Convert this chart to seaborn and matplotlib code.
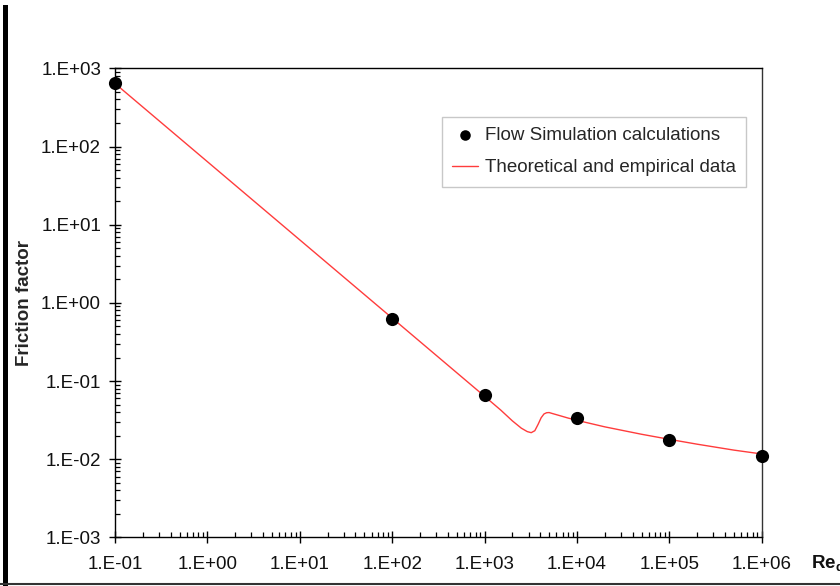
import numpy as np
import pandas as pd
import matplotlib
matplotlib.use("Agg")
import matplotlib.pyplot as plt
from matplotlib.ticker import LogLocator, FuncFormatter, NullFormatter
from matplotlib.lines import Line2D
from matplotlib.patches import Rectangle
import seaborn as sns

# Flow Simulation results
sim_re = [0.1, 100, 1000, 1e4, 1e5, 1e6]
sim_f = [640, 0.63, 0.066, 0.034, 0.0175, 0.0111]

# Theoretical (laminar) and empirical (turbulent) friction factor curve
ref_re = [0.1, 1, 10, 100, 1000, 1500, 2000, 2500, 2900, 3200, 3500, 3800,
          4100, 4400, 4700, 5000, 5500, 6500, 8000, 1e4, 2e4, 5e4, 1e5,
          2e5, 5e5, 1e6]
ref_f = [640, 64, 6.4, 0.64, 0.064, 0.0425, 0.031, 0.0250, 0.0226, 0.0219,
         0.0232, 0.0280, 0.0340, 0.0380, 0.0394, 0.0396, 0.0383, 0.0362,
         0.0337, 0.0315, 0.0260, 0.0209, 0.0180, 0.0156, 0.0131, 0.0117]

sim_df = pd.DataFrame({"Re": sim_re, "f": sim_f})
ref_df = pd.DataFrame({"Re": ref_re, "f": ref_f})

sns.set_theme(style="ticks")
plt.rcParams["font.family"] = ["Liberation Sans", "DejaVu Sans"]
plt.rcParams["mathtext.fontset"] = "custom"
plt.rcParams["mathtext.rm"] = "Liberation Sans"
plt.rcParams["mathtext.bf"] = "Liberation Sans:bold"

FS = 13.5

fig = plt.figure(figsize=(8.4, 5.86), dpi=100)
ax = fig.add_axes([0.1369, 0.0828, 0.9068 - 0.1369, 0.8834 - 0.0828])

sns.scatterplot(data=sim_df, x="Re", y="f", ax=ax, color="black", s=90,
                edgecolor="black", linewidth=0, zorder=4, clip_on=False,
                label="Flow Simulation calculations")
sns.lineplot(data=ref_df, x="Re", y="f", ax=ax, color="#ff3c3c", lw=1.0,
             estimator=None, sort=False, zorder=3,
             label="Theoretical and empirical data")

ax.set_xscale("log")
ax.set_yscale("log")
ax.set_xlim(0.1, 1e6)
ax.set_ylim(1e-3, 1e3)

fmt = FuncFormatter(lambda v, pos: "1.E{:+03d}".format(int(round(np.log10(v)))))
for axis in (ax.xaxis, ax.yaxis):
    axis.set_major_locator(LogLocator(base=10, numticks=20))
    axis.set_minor_locator(LogLocator(base=10, subs=np.arange(2, 10), numticks=100))
    axis.set_major_formatter(fmt)
    axis.set_minor_formatter(NullFormatter())

ax.tick_params(which="major", direction="inout", length=8, width=1,
               color="black", labelsize=FS, labelcolor="#111111")
ax.tick_params(axis="x", which="major", pad=9)
ax.tick_params(axis="y", which="major", pad=6)
ax.tick_params(which="minor", direction="in", length=3.5, width=0.9,
               color="black")

for sp in ax.spines.values():
    sp.set_visible(True)
    sp.set_color("black")
    sp.set_linewidth(1.0)
ax.spines["right"].set_color("#333333")

ax.set_xlabel("")
ax.set_ylabel("Friction factor", fontsize=FS, fontweight="bold", labelpad=6)

leg = ax.legend(loc="upper right", bbox_to_anchor=(0.9757, 0.8968),
                borderaxespad=0, fontsize=FS, frameon=True, fancybox=False,
                framealpha=1, edgecolor="#c8c8c8", handlelength=1.4,
                handletextpad=0.35, labelspacing=0.8, borderpad=0.55,
                markerscale=0.8)
leg.get_frame().set_linewidth(1.0)

fig.text(811 / 840, 1 - 563 / 586, r"$\mathbf{Re_d}$", fontsize=FS,
         ha="left", va="center", color="#111111")

# frame edges along the left and bottom of the canvas
fig.add_artist(Rectangle((3 / 840, 0), 4.5 / 840, 1 - 5 / 586,
                         transform=fig.transFigure, color="black", lw=0))
fig.add_artist(Line2D([0, 1], [1 - 583.5 / 586] * 2, transform=fig.transFigure,
                      color="#333333", lw=1.5))

fig.savefig("out.png", dpi=100)
